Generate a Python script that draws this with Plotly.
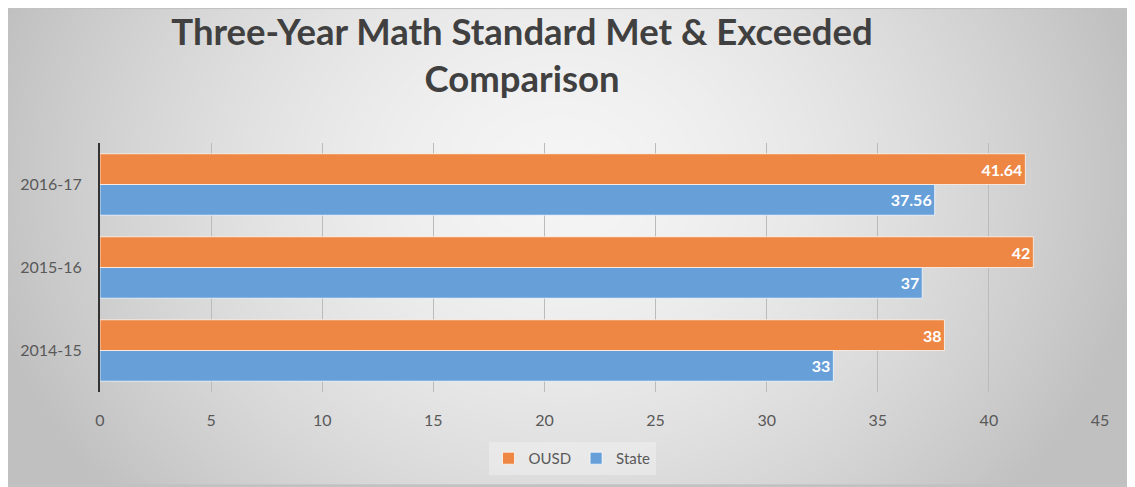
import base64, struct, zlib
import numpy as np
import plotly.graph_objects as go

# ---- data ----
categories = ["2014-15", "2015-16", "2016-17"]
ousd = [38, 42, 41.64]
state = [33, 37, 37.56]
x_ticks = [0, 5, 10, 15, 20, 25, 30, 35, 40, 45]

OFF = 8  # page body margin
W, H = 1135, 487 - OFF
L, T, B = 92, 135, 93
PW = 1000
R = W - L - PW
PH = H - T - B

# ---- background gradient (radial, grey) as PNG data URI ----
def make_png(arr):
    h, w = arr.shape
    raw = b"".join(b"\x00" + arr[i].tobytes() for i in range(h))
    def chunk(tag, data):
        c = struct.pack(">I", len(data)) + tag + data
        return c + struct.pack(">I", zlib.crc32(tag + data) & 0xffffffff)
    png = b"\x89PNG\r\n\x1a\n"
    png += chunk(b"IHDR", struct.pack(">IIBBBBB", w, h, 8, 0, 0, 0, 0))
    png += chunk(b"IDAT", zlib.compress(raw, 9))
    png += chunk(b"IEND", b"")
    return "data:image/png;base64," + base64.b64encode(png).decode()

yy, xx = np.mgrid[0:H, 0:W]
px = xx + OFF
py = yy + OFF
r = np.sqrt(((px - 560) / 590.0) ** 2 + ((py - 180) / 500.0) ** 2)
val = 245 - (245 - 192) * np.clip(r, 0, 1) ** 1.6
bg = make_png(val.astype(np.uint8))

label_font = dict(family="Lato", size=16, color="white", weight="bold")

fig = go.Figure()
fig.add_trace(go.Bar(
    y=categories, x=state, name="State", orientation="h",
    marker=dict(color="#67A0D9", line=dict(color="rgba(255,255,255,0.7)", width=1)),
    text=state, texttemplate="%{x}", textposition="inside", insidetextanchor="end",
    textfont=label_font, cliponaxis=False,
))
fig.add_trace(go.Bar(
    y=categories, x=ousd, name="OUSD", orientation="h",
    marker=dict(color="#EE8744", line=dict(color="rgba(255,255,255,0.7)", width=1)),
    text=ousd, texttemplate="%{x}", textposition="inside", insidetextanchor="end",
    textfont=label_font, cliponaxis=False,
))

def px2paper_x(p):
    return (p - OFF - L) / PW

def px2paper_y(p):
    return (H - B - (p - OFF)) / PH

fig.update_layout(
    width=W, height=H,
    margin=dict(l=L, r=R, t=T, b=B),
    paper_bgcolor="#C2C2C2",
    plot_bgcolor="rgba(0,0,0,0)",
    barmode="group", bargap=0.26, bargroupgap=0.0,
    font=dict(family="Lato", color="#595959", size=16),
    title=dict(
        text="<b>Three-Year Math Standard Met &amp; Exceeded<br>Comparison</b>",
        font=dict(family="Lato", size=36.5, color="#404040"),
        x=(522 - OFF) / W, xanchor="center",
        y=1 - (45 - OFF) / H, yanchor="middle",
    ),
    legend=dict(
        orientation="h", traceorder="reversed",
        x=px2paper_x(572), xanchor="center",
        y=px2paper_y(461), yanchor="middle",
        font=dict(family="Lato", size=15, color="#595959"),
        bgcolor="rgba(245,245,245,0.45)",
        itemwidth=30,
    ),
    xaxis=dict(
        range=[0, 45], tickvals=x_ticks, showgrid=True, gridcolor="#BBBBBB", gridwidth=1,
        zeroline=False, showline=False, ticks="", ticklabelstandoff=17,
        tickfont=dict(family="Lato", size=16, color="#595959"),
        fixedrange=True,
    ),
    yaxis=dict(
        categoryorder="array", categoryarray=categories,
        showline=True, linecolor="#333333", linewidth=2, showgrid=False,
        ticks="", ticklabelstandoff=13,
        tickfont=dict(family="Lato", size=16, color="#595959"),
    ),
    images=[dict(
        source=bg, xref="paper", yref="paper",
        x=-L / PW, y=(H - B) / PH,
        sizex=W / PW, sizey=H / PH,
        xanchor="left", yanchor="top", sizing="stretch", layer="below",
    )],
    showlegend=True,
)

fig.write_html("out.html")
